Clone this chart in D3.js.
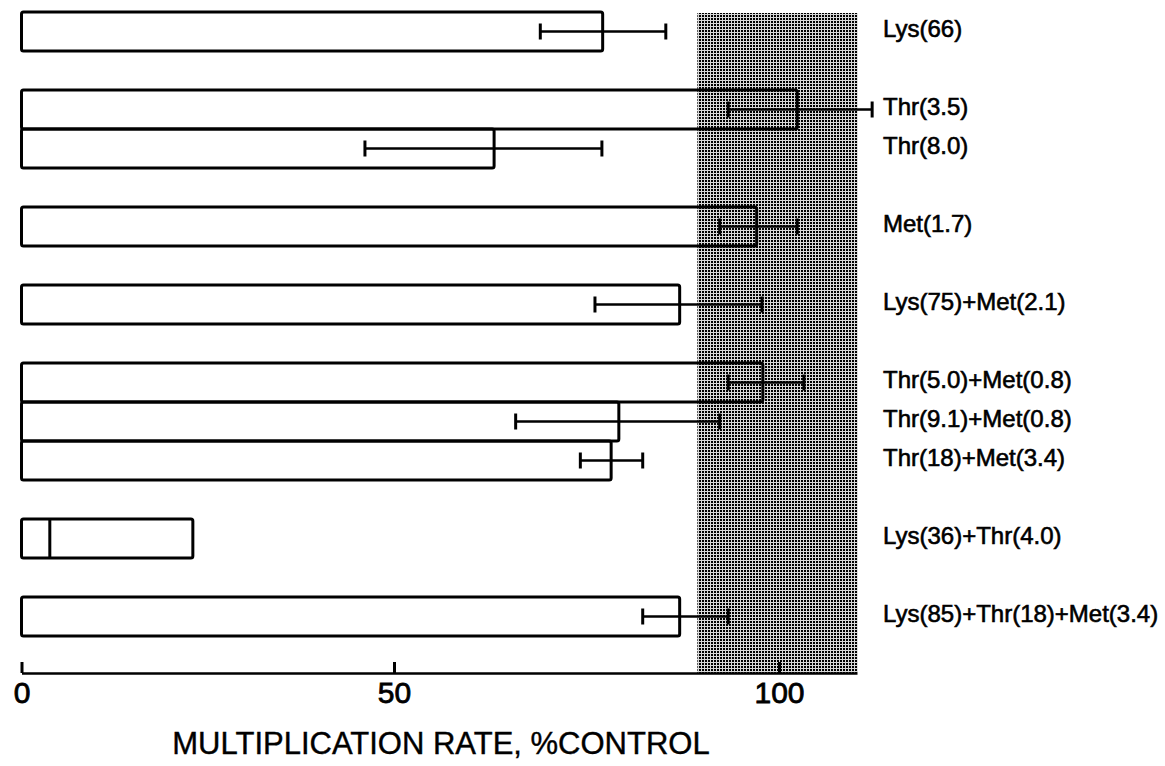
<!DOCTYPE html>
<html>
<head>
<meta charset="utf-8">
<script src="https://cdn.jsdelivr.net/npm/d3@7"></script>
<style>
  body { margin: 0; background: #fff; }
  text { font-family: "Liberation Sans", Arial, sans-serif; fill: #000; }
</style>
</head>
<body>
<svg id="chart"></svg>
<script>
// treatments, top to bottom
const labels = [
    "Lys(66)", "Thr(3.5)", "Thr(8.0)", "Met(1.7)", "Lys(75)+Met(2.1)",
    "Thr(5.0)+Met(0.8)", "Thr(9.1)+Met(0.8)", "Thr(18)+Met(3.4)",
    "Lys(36)+Thr(4.0)", "Lys(85)+Thr(18)+Met(3.4)"
];
// which block each bar belongs to (bars of one block touch)
const groupOf = [0, 1, 1, 2, 3, 4, 4, 4, 5, 6];
// multiplication rate, % of control
const means = [77.1, 102.4, 63.0, 97.1, 87.1, 97.9, 79.2, 78.2, 23.0, 87.1];
const errLow = [69.0, 93.4, 46.1, 92.3, 76.1, 93.4, 65.8, 74.2, null, 82.3];
const errHigh = [85.3, 112.3, 77.0, 102.4, 97.8, 103.3, 92.3, 82.3, null, 93.4];
const innerMark = [null, null, null, null, null, null, null, null, 3.8, null];
// shaded control range
const controlRange = [89.4, 110.4];
const xTicks = [0, 50, 100];
const xTitle = "MULTIPLICATION RATE, %CONTROL";

const width = 1165, height = 766;
const svg = d3.select("#chart").attr("width", width).attr("height", height);

// the printed axis is slightly uneven, so follow its three ticks
const x = d3.scaleLinear().domain([0, 50, 100, 110.3]).range([21.5, 394, 779, 857]);

const slots = labels.map((d, i) => i + groupOf[i]);
const nSlots = d3.max(slots) + 1;
const y = d3.scaleBand()
    .domain(d3.range(nSlots))
    .range([12, 12 + 39 * nSlots])
    .padding(0);

const axisY = 673;

// stipple pattern for the control band
const defs = svg.append("defs");
const pat = defs.append("pattern")
    .attr("id", "dots")
    .attr("width", 3)
    .attr("height", 3)
    .attr("patternUnits", "userSpaceOnUse");
pat.append("rect").attr("width", 3).attr("height", 3).attr("fill", "#d8d8d8");
pat.append("rect").attr("width", 2).attr("height", 2).attr("fill", "#000");

svg.append("rect")
    .attr("x", x(controlRange[0]))
    .attr("y", 13)
    .attr("width", x(controlRange[1]) - x(controlRange[0]))
    .attr("height", axisY - 13)
    .attr("fill", "url(#dots)");

const rows = labels.map((label, i) => ({
    label: label,
    slot: slots[i],
    mean: means[i],
    lo: errLow[i],
    hi: errHigh[i],
    mark: innerMark[i]
}));

// bars
svg.append("g").selectAll("rect")
    .data(rows)
    .join("rect")
    .attr("x", x(0))
    .attr("y", d => y(d.slot))
    .attr("width", d => x(d.mean) - x(0))
    .attr("height", y.bandwidth())
    .attr("rx", 2)
    .attr("fill", "none")
    .attr("stroke", "#000")
    .attr("stroke-width", 3);

// inner marker line
svg.append("g").selectAll("line")
    .data(rows.filter(d => d.mark != null))
    .join("line")
    .attr("x1", d => x(d.mark))
    .attr("x2", d => x(d.mark))
    .attr("y1", d => y(d.slot))
    .attr("y2", d => y(d.slot) + y.bandwidth())
    .attr("stroke", "#000")
    .attr("stroke-width", 3);

// error bars
const err = svg.append("g").selectAll("g")
    .data(rows.filter(d => d.lo != null))
    .join("g")
    .attr("transform", d => `translate(0, ${y(d.slot) + y.bandwidth() / 2})`);

err.append("line")
    .attr("x1", d => x(d.lo))
    .attr("x2", d => x(d.hi))
    .attr("stroke", "#000")
    .attr("stroke-width", 2.5);

err.selectAll("line.cap")
    .data(d => [d.lo, d.hi])
    .join("line")
    .attr("class", "cap")
    .attr("x1", v => x(v))
    .attr("x2", v => x(v))
    .attr("y1", -8)
    .attr("y2", 8)
    .attr("stroke", "#000")
    .attr("stroke-width", 3);

// treatment labels
svg.append("g").selectAll("text")
    .data(rows)
    .join("text")
    .attr("x", 883)
    .attr("y", d => y(d.slot) + y.bandwidth() / 2 - 3)
    .attr("dy", "0.35em")
    .style("font-size", "24px")
    .style("stroke", "#000")
    .style("stroke-width", 0.6)
    .text(d => d.label);

// x axis
const axis = svg.append("g")
    .attr("transform", `translate(0, ${axisY})`)
    .call(d3.axisBottom(x).tickValues(xTicks).tickSizeInner(-11).tickSizeOuter(0).tickPadding(9));

axis.select(".domain").attr("stroke-width", 2.5);
axis.selectAll(".tick line").attr("stroke-width", 3);
axis.selectAll(".tick text")
    .style("font-family", "'Liberation Sans', Arial, sans-serif")
    .style("font-size", "30px")
    .style("stroke", "#000")
    .style("stroke-width", 0.8);

svg.append("text")
    .attr("x", 441)
    .attr("y", 754)
    .attr("text-anchor", "middle")
    .style("font-size", "31px")
    .style("stroke", "#000")
    .style("stroke-width", 0.4)
    .text(xTitle);
</script>
</body>
</html>
